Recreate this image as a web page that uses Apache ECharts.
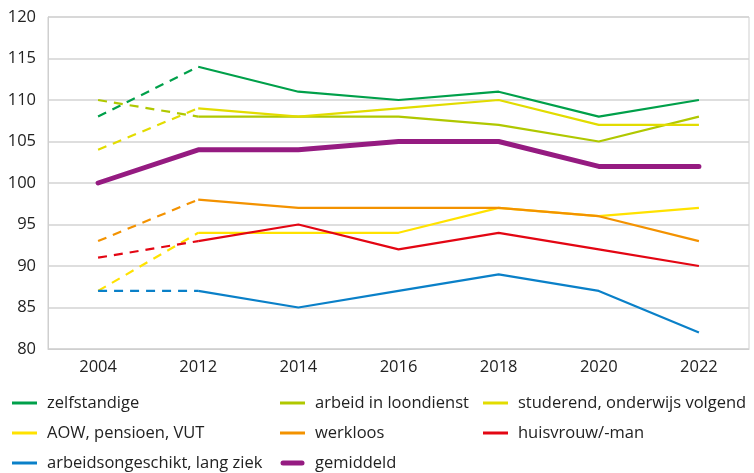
<!DOCTYPE html>
<html>
<head>
<meta charset="utf-8">
<script src="https://cdn.jsdelivr.net/npm/echarts@6/dist/echarts.min.js"></script>
<style>
  html, body { margin: 0; padding: 0; background: #fff; }
  #chart { width: 754px; height: 473px; }
</style>
</head>
<body>
<div id="chart"></div>
<script>
"use strict";
var years = ["2004", "2012", "2014", "2016", "2018", "2020", "2022"];
var names = ["zelfstandige", "arbeid in loondienst", "studerend, onderwijs volgend",
  "AOW, pensioen, VUT", "werkloos", "huisvrouw/-man",
  "arbeidsongeschikt, lang ziek", "gemiddeld"];
var colors = ["#00a04a", "#b0c800", "#e2dc00", "#ffe200", "#f39200", "#e30613", "#0a80c8", "#951b81"];

var zelfstandige = [108, 114, 111, 110, 111, 108, 110];
var loondienst = [110, 108, 108, 108, 107, 105, 108];
var studerend = [104, 109, 108, 109, 110, 107, 107];
var aow = [87, 94, 94, 94, 97, 96, 97];
var werkloos = [93, 98, 97, 97, 97, 96, 93];
var huisvrouw = [91, 93, 95, 92, 94, 92, 90];
var arbeidsongeschikt = [87, 87, 85, 87, 89, 87, 82];
var gemiddeld = [100, 104, 104, 105, 105, 102, 102];

var allData = [zelfstandige, loondienst, studerend, aow, werkloos, huisvrouw, arbeidsongeschikt];

var chart = echarts.init(document.getElementById("chart"));
var series = [];
// doorgetrokken deel vanaf 2012
allData.forEach(function (d, i) {
  series.push({
    name: names[i], type: "line", symbol: "none", silent: true,
    data: d.map(function (v, j) { return j === 0 ? "-" : v; }),
    lineStyle: { color: colors[i], width: 2.2 },
    itemStyle: { color: colors[i] }
  });
});
series.push({
  name: "gemiddeld", type: "line", symbol: "none", silent: true, z: 5,
  data: gemiddeld,
  lineStyle: { color: colors[7], width: 5, cap: "round", join: "round" },
  itemStyle: { color: colors[7] }
});
// gestippeld deel 2004-2012
allData.forEach(function (d, i) {
  series.push({
    name: names[i], type: "line", symbol: "none", silent: true,
    data: d.map(function (v, j) { return j < 2 ? v : "-"; }),
    lineStyle: { color: colors[i], width: 2.2, type: [9, 7] },
    itemStyle: { color: colors[i] }
  });
});

var thin = "path://M0,1h25v3h-25z";
var thick = "path://M3,0h19a2.5,2.5 0 0 1 0,5h-19a2.5,2.5 0 0 1 0,-5z";
function item(i) {
  return { name: names[i], icon: i === 7 ? thick : thin };
}
var legendBase = {
  orient: "vertical", top: 389, height: 110, itemGap: 12, itemWidth: 25, itemHeight: 5,
  symbolKeepAspect: true, selectedMode: false,
  textStyle: { fontFamily: "Open Sans", fontSize: 16.5, color: "#222", lineHeight: 18, padding: [0, 0, 0, 5] }
};
chart.setOption({
  animation: false,
  grid: { left: 48, right: 5, top: 17, bottom: 124, show: true, borderColor: "#cfcfcf", borderWidth: 1 },
  legend: [
    Object.assign({}, legendBase, { left: 7, data: [item(0), item(3), item(6)] }),
    Object.assign({}, legendBase, { left: 275, data: [item(1), item(4), item(7)] }),
    Object.assign({}, legendBase, { left: 478, data: [item(2), item(5)] })
  ],
  xAxis: {
    type: "category", data: years, boundaryGap: true,
    axisLine: { lineStyle: { color: "#cfcfcf" } },
    axisTick: { show: false },
    axisLabel: { fontFamily: "Open Sans", fontSize: 16.5, color: "#222", margin: 10 }
  },
  yAxis: {
    type: "value", min: 80, max: 120, interval: 5,
    axisLine: { show: true, lineStyle: { color: "#cfcfcf" } },
    axisLabel: { fontFamily: "Open Sans", fontSize: 16.5, color: "#222", margin: 12 },
    splitLine: { lineStyle: { color: "#d3d3d3", width: 1.5 } }
  },
  series: series
});
</script>
</body>
</html>
